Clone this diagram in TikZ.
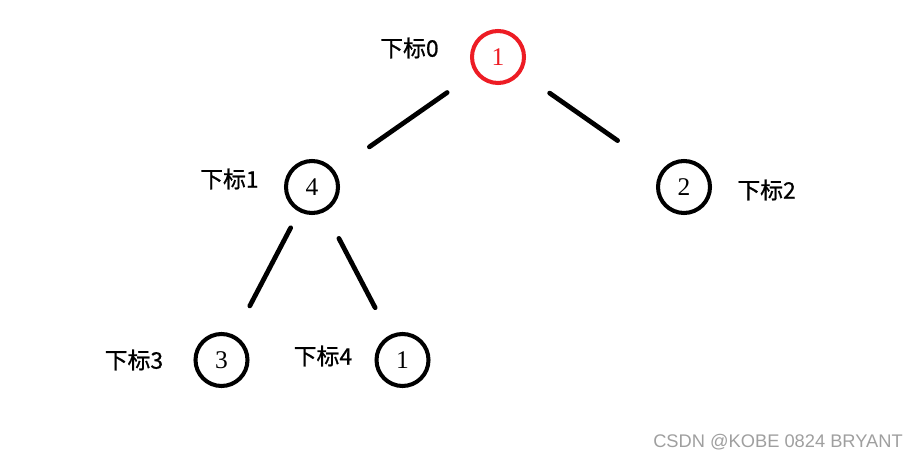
\documentclass[tikz,border=0pt]{standalone}
\usepackage{fontspec}
\setmainfont{Liberation Serif}
\newfontfamily\cjk[FakeBold=0.8]{Noto Sans CJK SC}
\newfontfamily\marksans{Liberation Sans}
\usepackage{tikz}
\usetikzlibrary{arrows,trees,positioning}
\definecolor{paintred}{RGB}{237,28,36}
\begin{document}
\begin{tikzpicture}
\tikzstyle{heapnode}=[circle,draw,line width=2.3pt,inner sep=0pt,minimum size=1.04cm,font=\fontsize{14.5}{16}\selectfont]
\tikzstyle{heaplabel}=[inner sep=0pt,font=\cjk\fontsize{13}{15}\selectfont]
\tikzstyle{every child node}=[heapnode]
\tikzstyle{edge from parent}=[draw,line width=2.7pt,line cap=round]
\tikzstyle{level 1}=[sibling distance=7.44cm,level distance=2.6cm]
\tikzstyle{level 2}=[sibling distance=3.62cm,level distance=3.46cm]
\useasboundingbox (0,0) rectangle (18.34,9.18);
\node[heapnode,draw=paintred,text=paintred] (root) at (9.96,8.04) {1}
child {node (n4) {4}
  child {node (n3) {3} edge from parent[shorten <=0.36cm,shorten >=0.66cm]}
  child {node (n1) {1} edge from parent[shorten <=0.6cm,shorten >=0.62cm]}
  edge from parent[shorten <=0.68cm,shorten >=0.84cm]}
child {node (n2) {2} edge from parent[shorten <=0.7cm,shorten >=1.06cm]};
% index labels
\node[heaplabel,left=0.62cm of root,yshift=0.18cm] (l0) {下标0};
\node[heaplabel,left=0.5cm of n4,yshift=0.16cm] (l1) {下标1};
\node[heaplabel,right=0.5cm of n2,yshift=-0.06cm] (l2) {下标2};
\node[heaplabel,left=0.6cm of n3] (l3) {下标3};
\node[heaplabel,left=0.44cm of n1,yshift=0.08cm] (l4) {下标4};
\node[text=gray!75,font=\marksans\fontsize{10.4}{12}\selectfont] (watermark) at (15.56,0.34) {CSDN @KOBE 0824 BRYANT};
\end{tikzpicture}
\end{document}
